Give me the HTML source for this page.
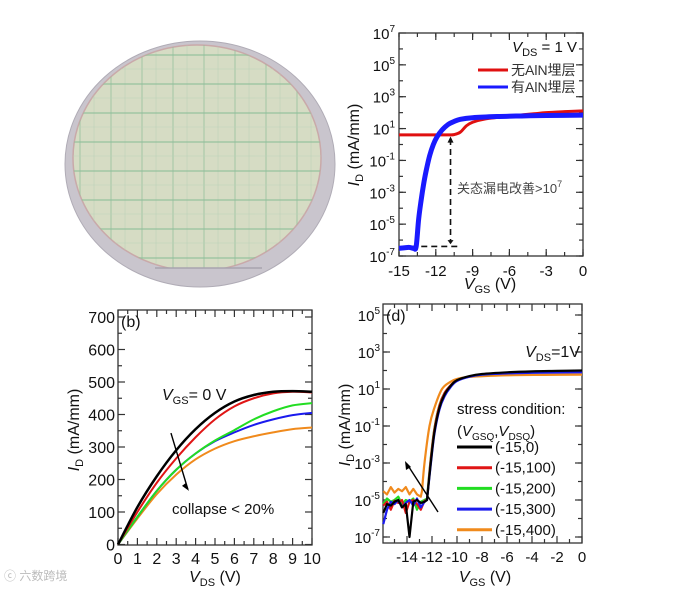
<!DOCTYPE html>
<html><head><meta charset="utf-8"><style>
html,body{margin:0;padding:0;background:#fff;}
svg{display:block;font-family:"Liberation Sans","Noto Sans CJK SC",sans-serif;}
</style></head><body>
<svg id="s" width="692" height="590" viewBox="0 0 692 590" xmlns="http://www.w3.org/2000/svg">
<defs>
  <clipPath id="rclip"><rect x="60" y="40" width="280" height="228"/></clipPath>
  <clipPath id="eclip"><ellipse cx="197" cy="158" rx="124" ry="113"/></clipPath>
</defs>
<g>
  <ellipse cx="200" cy="164" rx="135" ry="123" fill="#c9c5cd" stroke="#b0acb6" stroke-width="1"/>
  <g clip-path="url(#rclip)">
    <ellipse cx="197" cy="158" rx="124" ry="113" fill="#d6dcc4" stroke="#c9a9a9" stroke-width="1.5"/>
    <g clip-path="url(#eclip)"><g id="wgrid"></g></g>
  </g>
  <line x1="155" y1="268" x2="262" y2="268" stroke="#a8a4ae" stroke-width="1.5"/>
</g>
<g id="c1"></g>
<g id="c2"></g>
<g id="c3"></g>
<text x="4" y="580" font-size="12" fill="#bbb">ⓒ 六数跨境</text>
</svg>
<script>
// ---------- Chart A data ----------
const aRedX=[-15,-13,-11,-10.5,-10,-9.5,-9,-8,-6,-4,-3,-1.5,0];
const aRedY=[4,4,4,4.2,6,15,25,40,60,85,100,115,130];
const aBlueX=[-15,-14.2,-13.8,-13.6,-13.4,-13.2,-13,-12.8,-12.5,-12.2,-11.9,-11.5,-11,-10.5,-10,-9,-7,-5,-3,0];
const aBlueY=[3e-7,3.5e-7,3e-7,4e-7,2e-5,3e-4,3e-3,2e-2,0.2,1,3,8,18,28,38,48,57,62,66,70];
const aYTicks=[-7,-5,-3,-1,1,3,5,7];
const aXTicks=[-15,-12,-9,-6,-3,0];
// ---------- Chart B data ----------
const bX=[0,1,2,3,4,5,6,7,8,9,10];
const bBlack=[0,115,210,290,355,405,440,460,470,472,470];
const bRed=[0,100,190,265,330,385,425,450,465,470,468];
const bGreen=[0,85,165,230,280,320,352,385,410,428,435];
const bBlue=[0,85,165,230,280,318,345,368,385,398,405];
const bOrange=[0,80,155,215,262,295,318,333,345,355,360];
const bYTicks=[0,100,200,300,400,500,600,700];
const bXTicks=[0,1,2,3,4,5,6,7,8,9,10];
// ---------- Chart D data ----------
const dNoiseX=[-15.9,-15.6,-15.3,-15,-14.7,-14.4,-14.1,-13.8,-13.5,-13.2,-12.9,-12.6];
const dX=[-12.4,-12.1,-11.8,-11.4,-11,-10.5,-10,-9,-8,-6,-4,-2,0];
const dBlackN=[2e-6,6e-6,5e-6,8e-6,1e-5,4e-6,6e-6,1e-7,8e-6,1e-5,7e-6,8e-6];
const dBlack=[1e-5,1e-3,0.05,1,5,15,30,50,65,80,90,95,100];
const dRedN=[5e-6,8e-6,3e-6,9e-6,7e-6,1e-5,2e-6,8e-6,1e-5,6e-6,3e-6,9e-6];
const dRed=[1e-5,1.5e-3,0.07,1.3,6,16,30,48,62,75,83,88,90];
const dGreenN=[6e-6,1.2e-5,8e-6,1e-5,1.5e-5,6e-6,1e-5,8e-6,1.2e-5,3e-6,8e-6,1e-5];
const dGreen=[1.2e-5,1.8e-3,0.08,1.4,6,16,30,48,60,72,78,82,85];
const dBlueN=[5e-7,3e-6,8e-6,6e-6,1e-5,4e-6,7e-6,1e-5,5e-6,1.2e-5,4e-6,8e-6];
const dBlue=[1e-5,8e-4,0.04,0.8,4,13,27,46,60,70,75,78,80];
const dOrangeX=[-12.8,-12.6,-12.2,-11.8,-11.2,-10.5,-10,-9,-6,-3,0];
const dOrangeN=[3e-5,2e-5,5e-5,2.5e-5,4e-5,3e-5,5e-5,2e-5,4e-5,2e-5,1.5e-5,3e-5];
const dOrange=[3e-5,1e-3,0.1,1,10,25,35,45,55,58,60];
const dYTicks=[-7,-5,-3,-1,1,3,5];
const dXTicks=[-14,-12,-10,-8,-6,-4,-2,0];
const dLegend=["(-15,0)","(-15,100)","(-15,200)","(-15,300)","(-15,400)"];

const NS="http://www.w3.org/2000/svg";
function mk(parent,tag,attrs){const e=document.createElementNS(NS,tag);for(const k in attrs)e.setAttribute(k,attrs[k]);parent.appendChild(e);return e;}
function linS(d0,d1,r0,r1){return v=>r0+(v-d0)*(r1-r0)/(d1-d0);}
function logS(l0,l1,r0,r1){return v=>r0+(Math.log10(v)-l0)*(r1-r0)/(l1-l0);}
function pathD(xs,ys,sx,sy){return xs.map((x,i)=>(i?"L":"M")+sx(x).toFixed(1)+","+sy(ys[i]).toFixed(1)).join("");}
function smoothD(xs,ys,sx,sy){const p=xs.map((x,i)=>[sx(x),sy(ys[i])]);let d="M"+p[0][0]+","+p[0][1];
 for(let i=0;i<p.length-1;i++){const p0=p[i-1]||p[i],p1=p[i],p2=p[i+1],p3=p[i+2]||p2;
 d+="C"+(p1[0]+(p2[0]-p0[0])/6)+","+(p1[1]+(p2[1]-p0[1])/6)+" "+(p2[0]-(p3[0]-p1[0])/6)+","+(p2[1]-(p3[1]-p1[1])/6)+" "+p2[0]+","+p2[1];}return d;}
function pow10Label(g,x,y,exp,anchor){const t=mk(g,"text",{x:x,y:y,"font-size":15,"text-anchor":anchor||"end",fill:"#111"});
 
 
 t.innerHTML='10<tspan dy="-7" font-size="10">'+exp+'</tspan>';return t;}
function box(g,x0,y0,x1,y1){const r=mk(g,"rect",{x:x0,y:y0,width:x1-x0,height:y1-y0,fill:"none",stroke:"#333","stroke-width":1.3});
 
 }
function addLine(g,d,color,w,name){const p=mk(g,"path",{d:d,fill:"none",stroke:color,"stroke-width":w,"stroke-linejoin":"round"});
 
 return p;}
function tick(g,x1,y1,x2,y2){const l=mk(g,"line",{x1:x1,y1:y1,x2:x2,y2:y2,stroke:"#333","stroke-width":1.2});
 
 }
function txt(g,x,y,html,size,anchor,name,extra){const t=mk(g,"text",Object.assign({x:x,y:y,"font-size":size,"text-anchor":anchor,fill:"#111"},extra||{}));t.innerHTML=html;
 
 return t;}

// wafer grid
(function(){const g=document.getElementById('wgrid');
 for(let x=80;x<330;x+=31){mk(g,"line",{x1:x,y1:45,x2:x,y2:270,stroke:"#8fbf9a","stroke-width":1.2,opacity:0.6});
   mk(g,"line",{x1:x+14,y1:45,x2:x+14,y2:270,stroke:"#b8d0b8","stroke-width":0.8,opacity:0.6});}
 for(let y=55;y<270;y+=29){mk(g,"line",{x1:73,y1:y,x2:322,y2:y,stroke:"#8fbf9a","stroke-width":2,opacity:0.55});
   mk(g,"line",{x1:73,y1:y+14,x2:322,y2:y+14,stroke:"#b8d0b8","stroke-width":0.8,opacity:0.6});}
})();

// ---------- Chart A ----------
(function(){const g=document.getElementById('c1');const X0=399,X1=583,Y0=33,Y1=256;
 const sx=linS(-15,0,X0,X1),sy=logS(-7,7,Y1,Y0);
 box(g,X0,Y0,X1,Y1);
 for(let e=-7;e<7;e++){tick(g,X0,sy(Math.pow(10,e)),X0+4,sy(Math.pow(10,e)));tick(g,X1,sy(Math.pow(10,e)),X1-4,sy(Math.pow(10,e)));}
 aYTicks.forEach(e=>{const y=sy(Math.pow(10,e));tick(g,X0,y,X0+7,y);tick(g,X1,y,X1-7,y);pow10Label(g,X0-4,y+6,e);});
 for(let v=-15;v<=0;v+=1.5){tick(g,sx(v),Y1,sx(v),Y1-4);tick(g,sx(v),Y0,sx(v),Y0+4);}
 aXTicks.forEach(v=>{tick(g,sx(v),Y1,sx(v),Y1-7);tick(g,sx(v),Y0,sx(v),Y0+7);txt(g,sx(v),Y1+20,String(v),15,"middle","x-tick-label");});
 txt(g,490,289,'<tspan font-style="italic">V</tspan><tspan font-size="11" dy="4">GS</tspan><tspan dy="-4"> (V)</tspan>',16,"middle","x-axis-title");
 txt(g,0,0,'<tspan font-style="italic">I</tspan><tspan font-size="11" dy="4">D</tspan><tspan dy="-4"> (mA/mm)</tspan>',16,"middle","y-axis-title",{transform:"translate(359,145) rotate(-90)"});
 const dash={stroke:"#111","stroke-width":1.6,"stroke-dasharray":"6,4",fill:"none"};
 const h1=mk(g,"line",Object.assign({x1:sx(-15),y1:sy(4),x2:sx(-10.2),y2:sy(4)},dash));
 const h2=mk(g,"line",Object.assign({x1:sx(-14),y1:sy(4e-7),x2:sx(-10.2),y2:sy(4e-7)},dash));
 const v1=mk(g,"line",Object.assign({x1:sx(-10.8),y1:sy(2.2),x2:sx(-10.8),y2:sy(8e-7)},dash));
 const ax=sx(-10.8);mk(g,"path",{d:`M${ax-3},${sy(1.3)}L${ax},${sy(3.2)}L${ax+3},${sy(1.3)}Z`,fill:"#111"});
 mk(g,"path",{d:`M${ax-3},${sy(1e-6)}L${ax},${sy(5.5e-7)}L${ax+3},${sy(1e-6)}Z`,fill:"#111"});
 addLine(g,smoothD(aRedX,aRedY,sx,sy),"#e01010",3,"series-no-aln");
 addLine(g,smoothD(aBlueX,aBlueY,sx,sy),"#1a1aff",5,"series-with-aln");
 txt(g,577,52,'<tspan font-style="italic">V</tspan><tspan font-size="11" dy="4">DS</tspan><tspan dy="-4"> = 1 V</tspan>',15,"end","vds-label");
 addLine(g,"M478,70L508,70","#e01010",3,"legend-swatch-no-aln");
 addLine(g,"M478,87L508,87","#1a1aff",3,"legend-swatch-with-aln");
 txt(g,511,75,"无AlN埋层",14,"start","legend-no-aln",{fill:"#333"});
 txt(g,511,92,"有AlN埋层",14,"start","legend-with-aln",{fill:"#333"});
 txt(g,457,193,'关态漏电改善&gt;10<tspan dy="-6" font-size="9">7</tspan>',13,"start","annotation-leakage",{fill:"#444"});
})();

// ---------- Chart B ----------
(function(){const g=document.getElementById('c2');const X0=118,X1=312,Y0=310,Y1=545;
 const sx=linS(0,10,X0,X1),sy=linS(0,700,544.5,317);
 box(g,X0,Y0,X1,Y1);
 for(let v=50;v<700;v+=100){tick(g,X0,sy(v),X0+4,sy(v));tick(g,X1,sy(v),X1-4,sy(v));}
 bYTicks.forEach(v=>{tick(g,X0,sy(v),X0+7,sy(v));tick(g,X1,sy(v),X1-7,sy(v));txt(g,X0-3,sy(v)+6,String(v),16,"end","y-tick-label");});
 for(let v=0.5;v<10;v+=1){tick(g,sx(v),Y1,sx(v),Y1-4);tick(g,sx(v),Y0,sx(v),Y0+4);}
 bXTicks.forEach(v=>{tick(g,sx(v),Y1,sx(v),Y1-7);tick(g,sx(v),Y0,sx(v),Y0+7);txt(g,sx(v),Y1+19,String(v),16,"middle","x-tick-label");});
 txt(g,215,582,'<tspan font-style="italic">V</tspan><tspan font-size="11" dy="4">DS</tspan><tspan dy="-4"> (V)</tspan>',16,"middle","x-axis-title");
 txt(g,0,0,'<tspan font-style="italic">I</tspan><tspan font-size="11" dy="4">D</tspan><tspan dy="-4"> (mA/mm)</tspan>',16,"middle","y-axis-title",{transform:"translate(79,430) rotate(-90)"});
 addLine(g,smoothD(bX,bOrange,sx,sy),"#f08a1c",2,"series-orange");
 addLine(g,smoothD(bX,bBlue,sx,sy),"#1a1aee",2,"series-blue");
 addLine(g,smoothD(bX,bGreen,sx,sy),"#22dd22",2,"series-green");
 addLine(g,smoothD(bX,bRed,sx,sy),"#e01515",2,"series-red");
 addLine(g,smoothD(bX,bBlack,sx,sy),"#000",2.5,"series-black");
 addLine(g,`M${sx(2.73)},${sy(343)}L${sx(3.6)},${sy(170)}`,"#000",1.4,"collapse-arrow");
 mk(g,"path",{d:`M${sx(3.66)},${sy(165)}l-7,-5l4,-3Z`,fill:"#000"});
 txt(g,121,327,"(b)",16,"start","panel-label-b");
 txt(g,162,400,'<tspan font-style="italic">V</tspan><tspan font-size="11" dy="4">GS</tspan><tspan dy="-4">= 0 V</tspan>',16,"start","vgs-label");
 txt(g,172,514,"collapse &lt; 20%",15,"start","collapse-label");
})();

// ---------- Chart D ----------
(function(){const g=document.getElementById('c3');const X0=383,X1=582,Y0=304,Y1=543;
 const sx=linS(-14,0,407,582),sy=logS(-7,5,537,315);
 box(g,X0,Y0,X1,Y1);
 for(let e=-7;e<=5;e++){const y=sy(Math.pow(10,e));tick(g,X0,y,X0+4,y);tick(g,X1,y,X1-4,y);}
 dYTicks.forEach(e=>{const y=sy(Math.pow(10,e));tick(g,X0,y,X0+7,y);tick(g,X1,y,X1-7,y);pow10Label(g,X0-3,y+6,e);});
 for(let v=-15;v<0;v+=2){tick(g,sx(v),Y1,sx(v),Y1-4);tick(g,sx(v),Y0,sx(v),Y0+4);}
 dXTicks.forEach(v=>{tick(g,sx(v),Y1,sx(v),Y1-7);tick(g,sx(v),Y0,sx(v),Y0+7);txt(g,sx(v),Y1+19,String(v),15,"middle","x-tick-label");});
 txt(g,485,582,'<tspan font-style="italic">V</tspan><tspan font-size="11" dy="4">GS</tspan><tspan dy="-4"> (V)</tspan>',16,"middle","x-axis-title");
 txt(g,0,0,'<tspan font-style="italic">I</tspan><tspan font-size="11" dy="4">D</tspan><tspan dy="-4"> (mA/mm)</tspan>',16,"middle","y-axis-title",{transform:"translate(350,425) rotate(-90)"});
 const cols=["#000","#e01515","#22dd22","#1a1aee","#f08a1c"];
 const sets=[[dX,dBlackN,dBlack],[dX,dRedN,dRed],[dX,dGreenN,dGreen],[dX,dBlueN,dBlue],[dOrangeX,dOrangeN,dOrange]];
 const order=[4,2,1,3,0];
 order.forEach(i=>{const [xs,n,ys]=sets[i];
  const nx=dNoiseX.filter(x=>x<xs[0]);const nyy=n.slice(0,nx.length);
  const d=pathD(nx,nyy,sx,sy)+smoothD(xs,ys,sx,sy).replace(/^M/,"L");
  addLine(g,d,cols[i],2.2,"series-"+dLegend[i]);});
 addLine(g,`M438,512L407,464`,"#000",1.4,"stress-arrow");
 mk(g,"path",{d:"M405,461l1,9l5,-3Z",fill:"#000"});
 txt(g,386,321,"(d)",16,"start","panel-label-d");
 txt(g,580,357,'<tspan font-style="italic">V</tspan><tspan font-size="11" dy="4">DS</tspan><tspan dy="-4">=1V</tspan>',16,"end","vds-label");
 txt(g,457,414,"stress condition:",15,"start","legend-title");
 txt(g,457,436,'(<tspan font-style="italic">V</tspan><tspan font-size="10" dy="4">GSQ</tspan><tspan dy="-4">,</tspan><tspan font-style="italic">V</tspan><tspan font-size="10" dy="4">DSQ</tspan><tspan dy="-4">)</tspan>',15,"start","legend-subtitle");
 dLegend.forEach((s,i)=>{const y=447+i*20.7;addLine(g,`M457,${y}L492,${y}`,cols[i],3,"legend-swatch");
  txt(g,495,y+5,s,15,"start","legend-entry");});
})();
</script>
</body></html>
